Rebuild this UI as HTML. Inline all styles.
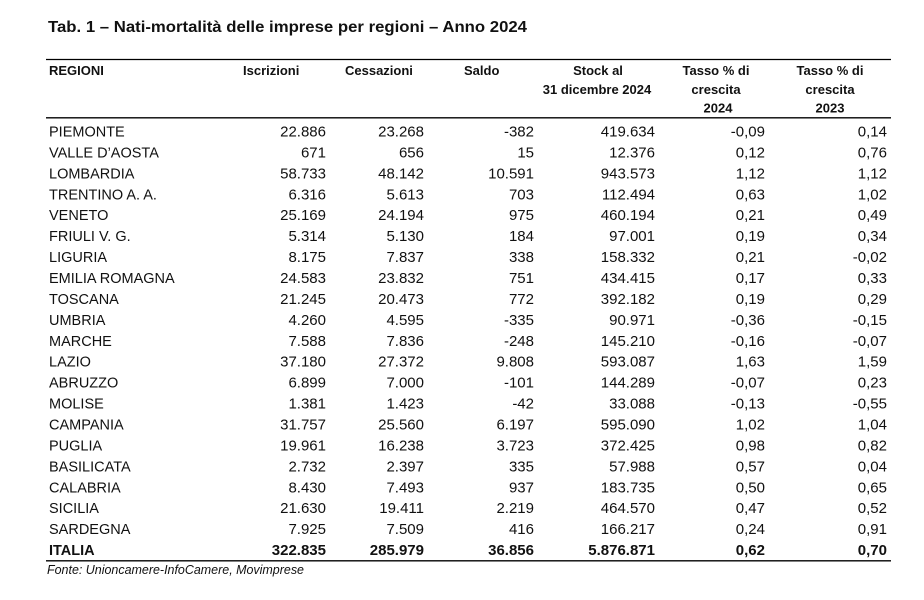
<!DOCTYPE html>
<html>
<head>
<meta charset="utf-8">
<style>
html,body{margin:0;padding:0;background:#fff;}
svg{display:block;}
text{font-family:"Liberation Sans",sans-serif;fill:#111;}
.r{font-size:14.5px;}
.n{font-size:15px;text-anchor:end;}
.h{font-size:13px;font-weight:bold;}
.hc{font-size:13px;font-weight:bold;text-anchor:middle;}
.b{font-weight:bold;}
</style>
</head>
<body>
<svg width="924" height="600" viewBox="0 0 924 600" xmlns="http://www.w3.org/2000/svg">
<rect width="924" height="600" fill="#fff"/>
<text x="48" y="32" style="font-size:15.5px;font-weight:bold" textLength="479" lengthAdjust="spacingAndGlyphs">Tab. 1 – Nati-mortalità delle imprese per regioni – Anno 2024</text>
<line x1="46" y1="59.5" x2="891" y2="59.5" stroke="#000" stroke-width="1.3"/>
<line x1="46" y1="117.8" x2="891" y2="117.8" stroke="#000" stroke-width="1.3"/>
<line x1="46" y1="560.8" x2="891" y2="560.8" stroke="#000" stroke-width="1.3"/>

<text class="h" x="49" y="75">REGIONI</text>
<text class="h" x="243" y="75">Iscrizioni</text>
<text class="h" x="345" y="75">Cessazioni</text>
<text class="h" x="464" y="75">Saldo</text>
<text class="hc" x="598" y="75">Stock al</text>
<text class="hc" x="597" y="94">31 dicembre 2024</text>
<text class="hc" x="716" y="75">Tasso % di</text>
<text class="hc" x="716" y="94">crescita</text>
<text class="hc" x="718" y="112.5">2024</text>
<text class="hc" x="830" y="75">Tasso % di</text>
<text class="hc" x="830" y="94">crescita</text>
<text class="hc" x="830" y="112.5">2023</text>

<g transform="translate(0,136.5)"><text class="r" x="49">PIEMONTE</text><text class="n" x="326">22.886</text><text class="n" x="424">23.268</text><text class="n" x="534">-382</text><text class="n" x="655">419.634</text><text class="n" x="765">-0,09</text><text class="n" x="887">0,14</text></g>
<g transform="translate(0,157.4)"><text class="r" x="49">VALLE D’AOSTA</text><text class="n" x="326">671</text><text class="n" x="424">656</text><text class="n" x="534">15</text><text class="n" x="655">12.376</text><text class="n" x="765">0,12</text><text class="n" x="887">0,76</text></g>
<g transform="translate(0,178.4)"><text class="r" x="49">LOMBARDIA</text><text class="n" x="326">58.733</text><text class="n" x="424">48.142</text><text class="n" x="534">10.591</text><text class="n" x="655">943.573</text><text class="n" x="765">1,12</text><text class="n" x="887">1,12</text></g>
<g transform="translate(0,199.3)"><text class="r" x="49">TRENTINO A. A.</text><text class="n" x="326">6.316</text><text class="n" x="424">5.613</text><text class="n" x="534">703</text><text class="n" x="655">112.494</text><text class="n" x="765">0,63</text><text class="n" x="887">1,02</text></g>
<g transform="translate(0,220.2)"><text class="r" x="49">VENETO</text><text class="n" x="326">25.169</text><text class="n" x="424">24.194</text><text class="n" x="534">975</text><text class="n" x="655">460.194</text><text class="n" x="765">0,21</text><text class="n" x="887">0,49</text></g>
<g transform="translate(0,241.2)"><text class="r" x="49">FRIULI V. G.</text><text class="n" x="326">5.314</text><text class="n" x="424">5.130</text><text class="n" x="534">184</text><text class="n" x="655">97.001</text><text class="n" x="765">0,19</text><text class="n" x="887">0,34</text></g>
<g transform="translate(0,262.1)"><text class="r" x="49">LIGURIA</text><text class="n" x="326">8.175</text><text class="n" x="424">7.837</text><text class="n" x="534">338</text><text class="n" x="655">158.332</text><text class="n" x="765">0,21</text><text class="n" x="887">-0,02</text></g>
<g transform="translate(0,283.0)"><text class="r" x="49">EMILIA ROMAGNA</text><text class="n" x="326">24.583</text><text class="n" x="424">23.832</text><text class="n" x="534">751</text><text class="n" x="655">434.415</text><text class="n" x="765">0,17</text><text class="n" x="887">0,33</text></g>
<g transform="translate(0,303.9)"><text class="r" x="49">TOSCANA</text><text class="n" x="326">21.245</text><text class="n" x="424">20.473</text><text class="n" x="534">772</text><text class="n" x="655">392.182</text><text class="n" x="765">0,19</text><text class="n" x="887">0,29</text></g>
<g transform="translate(0,324.9)"><text class="r" x="49">UMBRIA</text><text class="n" x="326">4.260</text><text class="n" x="424">4.595</text><text class="n" x="534">-335</text><text class="n" x="655">90.971</text><text class="n" x="765">-0,36</text><text class="n" x="887">-0,15</text></g>
<g transform="translate(0,345.8)"><text class="r" x="49">MARCHE</text><text class="n" x="326">7.588</text><text class="n" x="424">7.836</text><text class="n" x="534">-248</text><text class="n" x="655">145.210</text><text class="n" x="765">-0,16</text><text class="n" x="887">-0,07</text></g>
<g transform="translate(0,366.7)"><text class="r" x="49">LAZIO</text><text class="n" x="326">37.180</text><text class="n" x="424">27.372</text><text class="n" x="534">9.808</text><text class="n" x="655">593.087</text><text class="n" x="765">1,63</text><text class="n" x="887">1,59</text></g>
<g transform="translate(0,387.7)"><text class="r" x="49">ABRUZZO</text><text class="n" x="326">6.899</text><text class="n" x="424">7.000</text><text class="n" x="534">-101</text><text class="n" x="655">144.289</text><text class="n" x="765">-0,07</text><text class="n" x="887">0,23</text></g>
<g transform="translate(0,408.6)"><text class="r" x="49">MOLISE</text><text class="n" x="326">1.381</text><text class="n" x="424">1.423</text><text class="n" x="534">-42</text><text class="n" x="655">33.088</text><text class="n" x="765">-0,13</text><text class="n" x="887">-0,55</text></g>
<g transform="translate(0,429.5)"><text class="r" x="49">CAMPANIA</text><text class="n" x="326">31.757</text><text class="n" x="424">25.560</text><text class="n" x="534">6.197</text><text class="n" x="655">595.090</text><text class="n" x="765">1,02</text><text class="n" x="887">1,04</text></g>
<g transform="translate(0,450.5)"><text class="r" x="49">PUGLIA</text><text class="n" x="326">19.961</text><text class="n" x="424">16.238</text><text class="n" x="534">3.723</text><text class="n" x="655">372.425</text><text class="n" x="765">0,98</text><text class="n" x="887">0,82</text></g>
<g transform="translate(0,471.4)"><text class="r" x="49">BASILICATA</text><text class="n" x="326">2.732</text><text class="n" x="424">2.397</text><text class="n" x="534">335</text><text class="n" x="655">57.988</text><text class="n" x="765">0,57</text><text class="n" x="887">0,04</text></g>
<g transform="translate(0,492.3)"><text class="r" x="49">CALABRIA</text><text class="n" x="326">8.430</text><text class="n" x="424">7.493</text><text class="n" x="534">937</text><text class="n" x="655">183.735</text><text class="n" x="765">0,50</text><text class="n" x="887">0,65</text></g>
<g transform="translate(0,513.2)"><text class="r" x="49">SICILIA</text><text class="n" x="326">21.630</text><text class="n" x="424">19.411</text><text class="n" x="534">2.219</text><text class="n" x="655">464.570</text><text class="n" x="765">0,47</text><text class="n" x="887">0,52</text></g>
<g transform="translate(0,534.2)"><text class="r" x="49">SARDEGNA</text><text class="n" x="326">7.925</text><text class="n" x="424">7.509</text><text class="n" x="534">416</text><text class="n" x="655">166.217</text><text class="n" x="765">0,24</text><text class="n" x="887">0,91</text></g>
<g transform="translate(0,555.1)"><text class="r b" x="49">ITALIA</text><text class="n b" x="326">322.835</text><text class="n b" x="424">285.979</text><text class="n b" x="534">36.856</text><text class="n b" x="655">5.876.871</text><text class="n b" x="765">0,62</text><text class="n b" x="887">0,70</text></g>

<text x="47" y="574" style="font-size:13px;font-style:italic" textLength="257" lengthAdjust="spacingAndGlyphs">Fonte: Unioncamere-InfoCamere, Movimprese</text>
</svg>
</body>
</html>
